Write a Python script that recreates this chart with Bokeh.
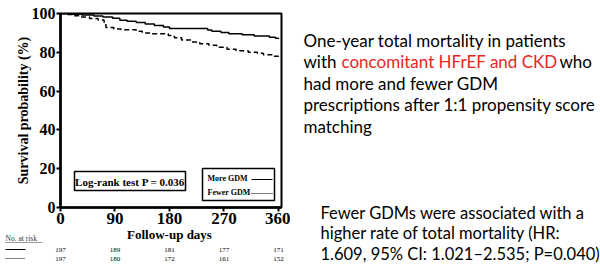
from bokeh.plotting import figure
from bokeh.models import FixedTicker, Range1d
from bokeh.layouts import row, column
from bokeh.core.properties import value
from bokeh.embed import file_html
from bokeh.resources import INLINE

# ---- data ----
more_days = [0, 12, 35, 55, 70, 86, 98, 110, 125, 140, 155, 170, 180, 243, 250, 265, 278, 300, 320, 345, 355, 360]
more_surv = [100, 99.6, 99.2, 98.7, 98.2, 97.5, 96.5, 96.0, 95.3, 94.6, 93.8, 93.0, 92.3, 91.5, 90.8, 90.2, 89.6, 89.0, 88.4, 87.8, 87.2, 86.8]
fewer_days = [0, 10, 20, 30, 48, 62, 72, 75, 88, 100, 125, 135, 150, 178, 188, 200, 215, 230, 245, 258, 275, 290, 310, 325, 335, 350, 360]
fewer_surv = [100, 99.5, 98.8, 98.2, 97.4, 96.6, 95.5, 92.8, 92.0, 91.6, 90.8, 90.0, 89.5, 88.6, 87.5, 86.4, 85.3, 84.4, 83.6, 82.6, 81.6, 80.8, 80.0, 79.5, 78.8, 78.0, 77.2]
x_ticks = [0, 90, 180, 270, 360]
y_ticks = [0, 20, 40, 60, 80, 100]
risk_more = [197, 189, 181, 177, 171]
risk_fewer = [197, 180, 172, 161, 152]
logrank_text = "Log-rank test P = 0.036"
legend_labels = ["More GDM", "Fewer GDM"]
x_title = "Follow-up days"
y_title = "Survival probability (%)"
risk_title = "No. at risk"
top_lines = [
    [("One-year total mortality in patients", "black", 303)],
    [("with", "black", 303), ("concomitant HFrEF and CKD", "#e8261f", 341), ("who", "black", 559)],
    [("had more and fewer GDM", "black", 303)],
    [("prescriptions after 1:1 propensity score", "black", 303)],
    [("matching", "black", 303)],
]
top_base = [39.5, 61, 82.5, 104, 125.5]
bottom_lines = ["Fewer GDMs were associated with a",
                "higher rate of total mortality (HR:",
                "1.609, 95% CI: 1.021\u20132.535; P=0.040)"]
bottom_base = [212, 232.5, 253]

# ---- layout (image pixels) ----
LW, RW = 290, 310
KH, BH = 228, 40
FL, FR, FT, FB = 60, 281, 13, 207
X0, X1, Y0, Y1 = 0, 365, 0, 100
SERIF = "Liberation Serif"
SANS = "Lato"


def px2day(px):
    return X0 + (px - FL) / (FR - FL) * (X1 - X0)


def py2val(py):
    return Y1 - (py - FT) / (FB - FT) * (Y1 - Y0)


# ---- KM figure ----
p = figure(width=LW, height=KH, output_backend="svg", toolbar_location=None,
           x_range=Range1d(X0, X1), y_range=Range1d(Y0, Y1),
           min_border_left=FL, min_border_right=LW - FR, min_border_top=FT, min_border_bottom=KH - FB)
p.grid.visible = False
p.outline_line_color = "black"
p.outline_line_width = 2
p.border_fill_color = "white"

for ax in (p.xaxis[0], p.yaxis[0]):
    ax.axis_line_width = 2.5
    ax.axis_line_color = "black"
    ax.major_tick_line_width = 2
    ax.major_tick_in = 0
    ax.major_tick_out = 4
    ax.minor_tick_line_color = None
    ax.major_label_text_font = SERIF
    ax.major_label_text_font_style = "bold"
    ax.major_label_text_color = "black"
    ax.axis_label_text_font = SERIF
    ax.axis_label_text_font_style = "bold"
    ax.axis_label_text_color = "black"

p.xaxis.ticker = FixedTicker(ticks=x_ticks)
p.yaxis.ticker = FixedTicker(ticks=y_ticks)
p.xaxis.major_label_text_font_size = "17px"
p.yaxis.major_label_text_font_size = "16px"
p.xaxis.major_label_standoff = 1
p.yaxis.major_label_standoff = 1
p.yaxis.axis_label = y_title
p.yaxis.axis_label_text_font_size = "14px"
p.yaxis.axis_label_standoff = -2

p.step(more_days, more_surv, mode="after", line_color="black", line_width=1.5)
p.step(fewer_days, fewer_surv, mode="after", line_color="black", line_width=1.5, line_dash="5 3")

# log-rank box
p.quad(left=[px2day(74)], right=[px2day(185)], top=[py2val(171)], bottom=[py2val(190)],
       fill_color="white", line_color="black", line_width=1.5)
p.text(x=[px2day(129.5)], y=[py2val(181)], text=[logrank_text], text_font=value(SERIF),
       text_font_size="11px", text_font_style="bold", text_align="center",
       text_baseline="middle", text_color="black")

# legend box
p.quad(left=[px2day(202)], right=[px2day(274)], top=[py2val(168)], bottom=[py2val(200)],
       fill_color="white", line_color="black", line_width=1.5)
p.text(x=[px2day(207), px2day(207)], y=[py2val(178), py2val(192)], text=legend_labels,
       text_font=value(SERIF), text_font_size="8px", text_font_style="bold",
       text_baseline="middle", text_color="black")
p.segment(x0=[px2day(251)], y0=[py2val(179)], x1=[px2day(272)], y1=[py2val(179)],
          line_color="black", line_width=1.2)
p.segment(x0=[px2day(251)], y0=[py2val(193)], x1=[px2day(272)], y1=[py2val(193)],
          line_color="black", line_width=1.2, line_dash="1 1")

# ---- bottom figure: axis title + number at risk (frame spans the whole strip) ----
b = figure(width=LW, height=BH, output_backend="svg", toolbar_location=None,
           x_range=Range1d(px2day(0), px2day(LW)), y_range=Range1d(KH + BH, KH),
           min_border=0, min_border_left=0, min_border_right=0, outline_line_color=None)
b.axis.visible = False
b.grid.visible = False
b.text(x=[180], y=[234], text=[x_title], text_font=value(SERIF), text_font_size="13px",
       text_font_style="bold", text_align="center", text_baseline="middle", text_color="black")
b.text(x=[px2day(5)], y=[237.5], text=[risk_title], text_font=value(SERIF), text_font_size="7.5px",
       text_baseline="middle", text_color="#333333")
b.segment(x0=[px2day(5)], y0=[242], x1=[px2day(42)], y1=[242], line_color="#999999", line_width=1.2)
b.segment(x0=[px2day(5)], y0=[249], x1=[px2day(25)], y1=[249], line_color="black", line_width=1.2)
b.segment(x0=[px2day(5)], y0=[258], x1=[px2day(25)], y1=[258], line_color="black", line_width=1.2,
          line_dash="1 1")
b.text(x=x_ticks, y=[249] * len(x_ticks), text=[str(v) for v in risk_more], text_font=value(SERIF),
       text_font_size="7px", text_align="center", text_baseline="middle", text_color="black")
b.text(x=x_ticks, y=[258] * len(x_ticks), text=[str(v) for v in risk_fewer], text_font=value(SERIF),
       text_font_size="7px", text_align="center", text_baseline="middle", text_color="black")

# ---- right figure: notes ----
r = figure(width=RW, height=KH + BH, output_backend="svg", toolbar_location=None,
           x_range=Range1d(LW, LW + RW), y_range=Range1d(KH + BH, 0),
           min_border=0, outline_line_color=None)
r.axis.visible = False
r.grid.visible = False
tx, ty, tt, tc = [], [], [], []
for line, base in zip(top_lines, top_base):
    for txt, col, xpos in line:
        tx.append(xpos)
        ty.append(base)
        tt.append(txt)
        tc.append(col)
r.text(x=tx, y=ty, text=tt, text_color=tc, text_font=value(SANS), text_font_size="17px",
       text_baseline="alphabetic")
r.text(x=[320] * len(bottom_lines), y=bottom_base, text=bottom_lines, text_color="black",
       text_font=value(SANS), text_font_size="16.5px", text_baseline="alphabetic")

layout = row(column(p, row(b)), r)
open("out.html", "w").write(file_html(layout, INLINE))
